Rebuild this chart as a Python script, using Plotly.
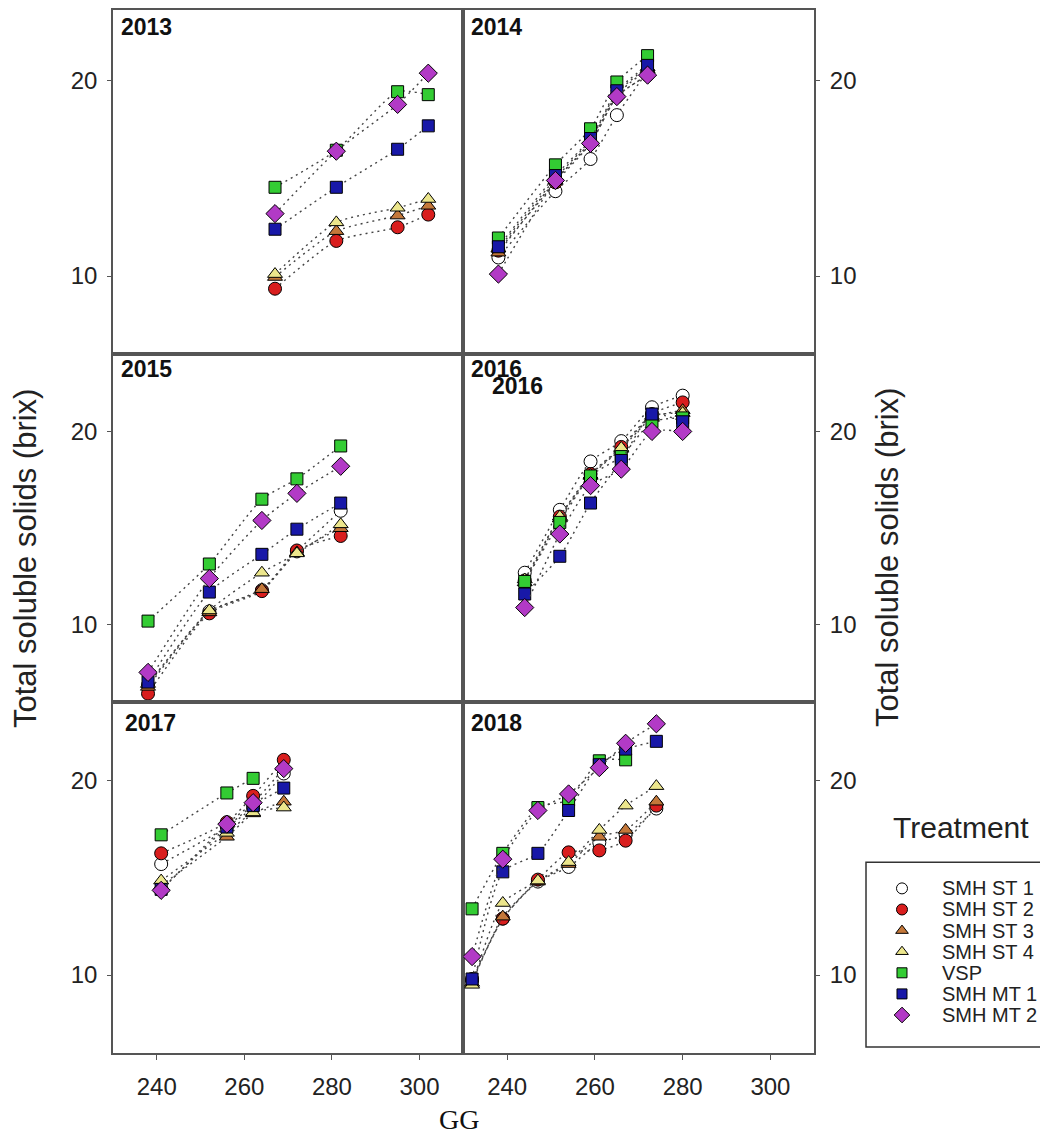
import plotly.graph_objects as go

treatments = ["SMH ST 1", "SMH ST 2", "SMH ST 3", "SMH ST 4", "VSP", "SMH MT 1", "SMH MT 2"]

gg_2013 = [267, 281, 295, 302]
tss_2013 = {
    "SMH ST 1": [None, None, None, None],
    "SMH ST 2": [9.35, 11.8, 12.5, 13.15],
    "SMH ST 3": [9.95, 12.3, 13.1, 13.6],
    "SMH ST 4": [10.1, 12.75, 13.5, 13.95],
    "VSP": [14.55, 16.45, 19.45, 19.3],
    "SMH MT 1": [12.4, 14.55, 16.5, 17.7],
    "SMH MT 2": [13.2, 16.4, 18.8, 20.4],
}

gg_2014 = [238, 251, 259, 265, 272]
tss_2014 = {
    "SMH ST 1": [10.95, 14.35, 16.0, 18.25, 20.5],
    "SMH ST 2": [11.3, 14.8, 16.8, 19.2, 20.3],
    "SMH ST 3": [11.2, 14.9, 16.9, 19.3, 20.6],
    "SMH ST 4": [11.4, 15.0, 17.0, 19.4, 20.7],
    "VSP": [11.95, 15.7, 17.55, 19.95, 21.3],
    "SMH MT 1": [11.5, 15.15, 17.05, 19.5, 20.8],
    "SMH MT 2": [10.1, 14.9, 16.8, 19.2, 20.3],
}

gg_2015 = [238, 252, 264, 272, 282]
tss_2015 = {
    "SMH ST 1": [6.9, 10.7, 11.8, 13.8, 15.9],
    "SMH ST 2": [6.45, 10.6, 11.75, 13.85, 14.6],
    "SMH ST 3": [6.8, 10.65, 11.85, 13.75, 15.0],
    "SMH ST 4": [6.95, 10.75, 12.7, 13.7, 15.2],
    "VSP": [10.2, 13.15, 16.5, 17.55, 19.25],
    "SMH MT 1": [7.05, 11.7, 13.65, 14.95, 16.3],
    "SMH MT 2": [7.55, 12.4, 15.4, 16.8, 18.2],
}

gg_2016 = [244, 252, 259, 266, 273, 280]
tss_2016 = {
    "SMH ST 1": [12.7, 15.95, 18.45, 19.5, 21.25, 21.85],
    "SMH ST 2": [12.3, 15.6, 17.8, 19.2, 20.9, 21.5],
    "SMH ST 3": [12.2, 15.5, 17.7, 19.1, 20.7, 21.1],
    "SMH ST 4": [12.35, 15.6, 17.75, 19.15, 20.8, 20.95],
    "VSP": [12.25, 15.3, 17.7, 18.7, 20.5, 20.7],
    "SMH MT 1": [11.6, 13.55, 16.3, 18.5, 20.9, 20.5],
    "SMH MT 2": [10.9, 14.7, 17.2, 18.05, 20.0, 20.0],
}

gg_2017 = [241, 256, 262, 269]
tss_2017 = {
    "SMH ST 1": [15.7, 17.6, 18.6, 20.35],
    "SMH ST 2": [16.25, 17.85, 19.2, 21.05],
    "SMH ST 3": [14.6, 17.1, 18.3, 18.9],
    "SMH ST 4": [14.85, 17.3, 18.35, 18.6],
    "VSP": [17.2, 19.35, 20.1, None],
    "SMH MT 1": [14.4, 17.6, 18.7, 19.6],
    "SMH MT 2": [14.35, 17.75, 18.85, 20.6],
}

gg_2018 = [232, 239, 247, 254, 261, 267, 274]
tss_2018 = {
    "SMH ST 1": [9.7, 12.9, 14.8, 15.55, 16.8, 17.2, 18.55],
    "SMH ST 2": [9.8, 12.9, 14.9, 16.3, 16.4, 16.9, 18.7],
    "SMH ST 3": [9.6, 13.0, 14.8, 15.7, 17.1, 17.45, 18.9],
    "SMH ST 4": [9.5, 13.7, 14.85, 15.8, 17.45, 18.7, 19.7],
    "VSP": [13.4, 16.25, 18.6, 19.0, 21.0, 21.05, None],
    "SMH MT 1": [9.8, 15.3, 16.25, 18.45, 20.8, 21.6, 22.0],
    "SMH MT 2": [10.95, 15.95, 18.45, 19.3, 20.65, 21.9, 22.9],
}

x_ticks = [240, 260, 280, 300]
y_ticks = [10, 20]

panels = [
    ("2013", gg_2013, tss_2013, 1, 1),
    ("2014", gg_2014, tss_2014, 1, 2),
    ("2015", gg_2015, tss_2015, 2, 1),
    ("2016", gg_2016, tss_2016, 2, 2),
    ("2017", gg_2017, tss_2017, 3, 1),
    ("2018", gg_2018, tss_2018, 3, 2),
]

styles = {
    "SMH ST 1": dict(symbol="circle", color="white", size=13),
    "SMH ST 2": dict(symbol="circle", color="#d91e1e", size=13),
    "SMH ST 3": dict(symbol="triangle-up", color="#c4783a", size=13),
    "SMH ST 4": dict(symbol="triangle-up", color="#ece68c", size=13),
    "VSP": dict(symbol="square", color="#33cc33", size=12),
    "SMH MT 1": dict(symbol="square", color="#1818a8", size=12),
    "SMH MT 2": dict(symbol="diamond", color="#b23ac6", size=14),
}

# layout geometry (paper fractions); page is offset by the 8px body margin
col_dom = {1: [0.0, 0.37148], 2: [0.37148, 0.74369]}
row_dom = {1: [0.67014, 1.0], 2: [0.33617, 0.67014], 3: [0.0, 0.33617]}
row_rng = {1: [6, 23.64], 2: [6, 24], 3: [6, 24]}

sans = "Liberation Sans, Arial, sans-serif"
tick_font = dict(family=sans, size=24, color="#222222")
line_col = "#555555"

fig = go.Figure()
layout = {}
for k, (year, gg, tss, r, c) in enumerate(panels, start=1):
    xr = "x" if k == 1 else "x%d" % k
    yr = "y" if k == 1 else "y%d" % k
    for t in treatments:
        st = styles[t]
        fig.add_trace(go.Scatter(
            x=gg, y=tss[t], mode="lines+markers", name=t, showlegend=False,
            xaxis=xr, yaxis=yr,
            line=dict(color="#444444", width=1.4, dash="2px,4px", shape="spline", smoothing=0.6),
            marker=dict(symbol=st["symbol"], color=st["color"], size=st["size"],
                        line=dict(color="black", width=1)),
        ))
    layout["xaxis" if k == 1 else "xaxis%d" % k] = dict(
        domain=col_dom[c], anchor=yr, range=[230, 310], tickvals=x_ticks,
        showgrid=False, zeroline=False, showline=True, mirror=True,
        linecolor=line_col, linewidth=1.5,
        ticks="outside" if r == 3 else "", ticklen=5, tickcolor=line_col,
        showticklabels=(r == 3), tickfont=tick_font, ticklabelstandoff=6)
    layout["yaxis" if k == 1 else "yaxis%d" % k] = dict(
        domain=row_dom[r], anchor=xr, range=row_rng[r], tickvals=y_ticks,
        showgrid=False, zeroline=False, showline=True, mirror=True,
        linecolor=line_col, linewidth=1.5,
        ticks="outside", ticklen=4, tickcolor=line_col,
        side="left" if c == 1 else "right", tickfont=tick_font, ticklabelstandoff=5)

# legend swatches on a hidden categorical axis
fig.add_trace(go.Scatter(
    x=[22] * len(treatments), y=treatments, mode="markers", showlegend=False,
    xaxis="x7", yaxis="y7", hoverinfo="skip",
    marker=dict(symbol=[styles[t]["symbol"] for t in treatments],
                color=[styles[t]["color"] for t in treatments],
                size=[styles[t]["size"] - 2 for t in treatments],
                opacity=1,
                line=dict(color="black", width=1)),
))
layout["xaxis7"] = dict(domain=[0.81336, 0.98303], anchor="y7", range=[0, 160], visible=False)
layout["yaxis7"] = dict(domain=[0.02632, 0.16794], anchor="x7", type="category",
                        categoryorder="array", categoryarray=treatments,
                        range=[6.5, -0.5], visible=False)

year_font = dict(family=sans, size=23, color="#111111")
annotations = []
year_pos = [
    ("2013", "x domain", "y domain", 0.017, 0.995),
    ("2014", "x2 domain", "y2 domain", 0.017, 0.995),
    ("2015", "x3 domain", "y3 domain", 0.017, 1.0),
    ("2016", "x4 domain", "y4 domain", 0.017, 1.0),
    ("2016", "x4 domain", "y4 domain", 0.076, 0.952),
    ("2017", "x5 domain", "y5 domain", 0.029, 0.985),
    ("2018", "x6 domain", "y6 domain", 0.016, 0.983),
]
for yr_txt, xref, yref, xx, yy in year_pos:
    annotations.append(dict(text="<b>%s</b>" % yr_txt, xref=xref, yref=yref, x=xx, y=yy,
                            xanchor="left", yanchor="top", showarrow=False, font=year_font))

for t in treatments:
    annotations.append(dict(text=t, xref="x7", yref="y7", x=60, y=t, xanchor="left",
                            yanchor="middle", showarrow=False,
                            font=dict(family=sans, size=20, color="#222222")))

title_font = dict(family=sans, size=31, color="#222222")
annotations.append(dict(text="Total soluble solids (brix)", xref="paper", yref="paper",
                        x=-0.09226, y=0.4746, xanchor="center", yanchor="middle",
                        textangle=-90, showarrow=False, font=title_font))
annotations.append(dict(text="Total soluble solids (brix)", xref="paper", yref="paper",
                        x=0.82185, y=0.4746, xanchor="center", yanchor="middle",
                        textangle=-90, showarrow=False, font=title_font))
annotations.append(dict(text="GG", xref="paper", yref="paper", x=0.36649, y=-0.0641,
                        xanchor="center", yanchor="middle", showarrow=False,
                        font=dict(family="Liberation Serif, Times New Roman, serif", size=28, color="#111111")))
annotations.append(dict(text="Treatment", xref="paper", yref="paper", x=0.89926, y=0.21627,
                        xanchor="center", yanchor="middle", showarrow=False,
                        font=dict(family=sans, size=30, color="#222222")))

fig.update_layout(
    width=1048, height=1136,
    margin=dict(l=105, r=0, t=0, b=91),
    paper_bgcolor="white", plot_bgcolor="white",
    showlegend=False,
    annotations=annotations,
    shapes=[dict(type="rect", xref="paper", yref="paper",
                 x0=0.79852, x1=0.98834, y0=0.00574, y1=0.18278,
                 line=dict(color="#333333", width=1.5), fillcolor="rgba(0,0,0,0)")],
    **layout,
)

fig.write_html("out.html")
